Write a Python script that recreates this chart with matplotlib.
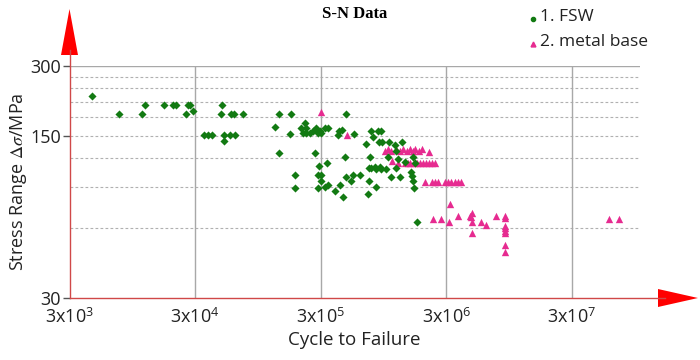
import matplotlib
matplotlib.use("Agg")
import matplotlib.pyplot as plt
from matplotlib.patches import Polygon
from matplotlib.lines import Line2D
import numpy as np

plt.rcParams['font.family'] = ['Open Sans', 'DejaVu Sans']
plt.rcParams['mathtext.fontset'] = 'stix'

# ---------------- data ----------------
fsw_cycles = [
    4.5e3, 7.5e3, 1.13e4, 1.19e4, 1.71e4, 2.0e4, 2.12e4, 2.52e4, 2.64e4, 2.75e4, 2.88e4,
    3.51e4, 3.80e4, 4.11e4, 4.94e4, 4.85e4, 5.83e4, 6.08e4, 7.2e4, 5.06e4, 5.65e4, 6.19e4, 5.06e4,
    1.41e5, 1.75e5, 4.8e5, 1.30e5, 1.70e5, 2.24e5, 2.11e5, 2.31e5, 2.17e5, 2.31e5, 2.45e5,
    2.61e5, 2.77e5, 2.95e5, 3.04e5, 3.27e5, 3.43e5, 2.85e5, 4.2e5, 4.47e5, 4.12e5, 5.52e5,
    1.39e5, 2.69e5, 4.66e5, 3.39e5, 2.91e5, 1.86e5, 2.85e5, 3.04e5, 3.04e5, 4.81e5, 5.27e5,
    5.42e5, 6.14e5, 1.89e5, 2.85e5, 3.23e5, 3.43e5, 4.25e5, 3.88e5, 4.52e5,
    7.6e5, 8.6e5, 9.1e5, 7.8e5, 6.94e5, 8.75e5, 9.3e5, 1.06e6, 1.34e6, 1.17e6, 1.03e6, 1.20e6,
    7.47e5, 1.24e6, 1.40e6, 1.63e6, 1.68e6, 7.28e5, 7.61e5, 8.08e5, 8.33e5, 8.85e5, 9.14e5,
    1.0e6, 1.20e6, 1.10e6, 1.28e6, 1.58e6, 1.61e6, 1.63e6, 1.65e6, 7.28e5, 8.23e5, 7.15e5, 1.75e6,
]
fsw_stress = [
    223, 186, 186, 204, 204, 204, 204, 186, 204, 204, 191,
    152, 152, 152, 204, 186, 186, 186, 186, 152, 152, 152, 142,
    186, 186, 186, 163, 153, 171, 162, 162, 155, 155, 155,
    157, 162, 158, 154, 162, 162, 154, 157, 159, 152, 153,
    127, 127, 121, 115, 111, 102, 102, 102, 96, 100, 96,
    102, 102, 89, 89, 90, 92, 92, 87, 82,
    158, 158, 158, 149, 138, 141, 141, 141, 141, 137, 122, 129,
    121, 119, 116, 121, 115, 109, 109, 110, 108, 110, 108,
    108, 109, 100, 100, 105, 101, 96, 89, 96, 90, 84, 64,
]

base_cycles = [
    3.0e5, 4.9e5,
    9.7e5, 1.03e6, 1.10e6, 1.19e6, 1.28e6, 1.37e6, 1.45e6, 1.54e6, 1.62e6, 1.71e6, 1.81e6, 1.91e6, 2.18e6,
    1.12e6, 1.23e6, 1.40e6, 1.48e6, 1.56e6, 1.65e6, 1.75e6, 1.85e6, 1.95e6, 2.06e6, 2.18e6, 2.30e6, 2.43e6,
    2.02e6, 2.33e6, 2.43e6, 2.58e6, 2.92e6, 3.10e6, 3.30e6, 3.51e6, 3.73e6, 3.96e6,
    2.36e6, 2.71e6, 3.24e6, 3.16e6, 3.73e6, 4.61e6, 4.85e6, 4.75e6, 4.8e6, 4.8e6, 5.72e6, 6.27e6,
    7.43e6, 8.77e6, 8.77e6, 8.8e6, 8.8e6, 8.8e6, 8.8e6, 8.8e6, 8.8e6,
    5.95e7, 7.15e7,
]
base_stress = [
    190, 152,
    129, 132, 129, 132, 129, 132, 129, 132, 129, 132, 129, 132, 128,
    117, 115, 115, 115, 115, 115, 115, 115, 115, 115, 115, 115, 115,
    95, 95, 95, 95, 95, 95, 95, 95, 95, 95,
    66, 66, 76, 64, 68, 68, 70, 67, 63.5, 57, 64, 62,
    68, 68, 66.6, 61, 60, 58.5, 57, 51, 47.5,
    66, 66,
]

series_labels = ["1. FSW", "2. metal base"]
x_ticks = [3e3, 3e4, 3e5, 3e6, 3e7]
x_ticklabels = ["3x10$^{\\mathregular{3}}$", "3x10$^{\\mathregular{4}}$", "3x10$^{\\mathregular{5}}$",
                "3x10$^{\\mathregular{6}}$", "3x10$^{\\mathregular{7}}$"]
y_ticks = [30, 150, 300]
y_ticklabels = ["30", "150", "300"]
y_grid_minor = [60, 90, 120, 150, 180, 210, 240, 270]

# ---------------- figure ----------------
W, H = 700, 360
fig = plt.figure(figsize=(7, 3.6), dpi=100)


def fx(px):
    return px / W


def fy(py):
    return 1 - py / H


left, right, top, bottom = 69.5, 640, 66, 298
ax = fig.add_axes([fx(left), fy(bottom), fx(right) - fx(left), fy(top) - fy(bottom)])
ax.set_xscale('log')
ax.set_yscale('log')
ax.set_xlim(3e3, 1.05e8)
ax.set_ylim(30, 300)

grid_c = '#a8a8a8'
for v in y_grid_minor:
    ax.axhline(v, color='#b0b0b0', lw=0.8, ls=(0, (2.5, 2)), zorder=0.5)
ax.axhline(300, color=grid_c, lw=1.0, zorder=0.5)
for v in x_ticks[1:]:
    ax.axvline(v, color=grid_c, lw=1.0, zorder=0.5)

green = '#127a12'
pink = '#e62b90'
ax.scatter(fsw_cycles, fsw_stress, marker='D', s=17, color=green, lw=0, zorder=3, clip_on=False)
ax.scatter(base_cycles, base_stress, marker='^', s=28, color=pink, lw=0, zorder=2, clip_on=False)

for s in ax.spines.values():
    s.set_visible(False)

ax.set_xticks(x_ticks)
ax.set_xticklabels(x_ticklabels, fontsize=13)
ax.xaxis.set_minor_locator(matplotlib.ticker.NullLocator())
ax.tick_params(axis='x', length=0, pad=7, colors='#222222')
ax.set_yticks(y_ticks)
ax.set_yticklabels(y_ticklabels, fontsize=13)
ax.yaxis.set_minor_locator(matplotlib.ticker.NullLocator())
ax.tick_params(axis='y', length=5, width=1, color='#555555', pad=1, labelcolor='#222222')

ax.set_xlabel('Cycle to Failure', fontsize=13.5, color='#222222', labelpad=3)
ax.set_ylabel('Stress Range $\\Delta\\sigma$/MPa', fontsize=13, color='#222222', labelpad=1)

# red axis lines with arrow heads
spine_c = '#d04848'
fig.add_artist(Line2D([fx(left), fx(left)], [fy(bottom), fy(50)], color=spine_c, lw=1.0))
fig.add_artist(Line2D([fx(left), fx(665)], [fy(bottom), fy(bottom)], color=spine_c, lw=1.0))
fig.add_artist(Polygon([[fx(61), fy(55)], [fx(78), fy(55)], [fx(left), fy(9)]],
                       closed=True, color='#ff0000', lw=0))
fig.add_artist(Polygon([[fx(658), fy(289)], [fx(658), fy(307)], [fx(698), fy(bottom)]],
                       closed=True, color='#ff0000', lw=0))

# title
fig.text(fx(355), fy(14), 'S-N Data', ha='center', va='center', fontsize=12,
         fontweight='bold', family='Liberation Serif')

# legend
fig.add_artist(Line2D([fx(533)], [fy(19)], marker='o', ms=3, color=green, lw=0))
fig.add_artist(Line2D([fx(533)], [fy(44)], marker='^', ms=3.5, color=pink, lw=0))
fig.text(fx(540), fy(17), series_labels[0], ha='left', va='center', fontsize=12.5, color='#222222')
fig.text(fx(540), fy(42), series_labels[1], ha='left', va='center', fontsize=12.5, color='#222222')

fig.savefig('out.png', dpi=100)
